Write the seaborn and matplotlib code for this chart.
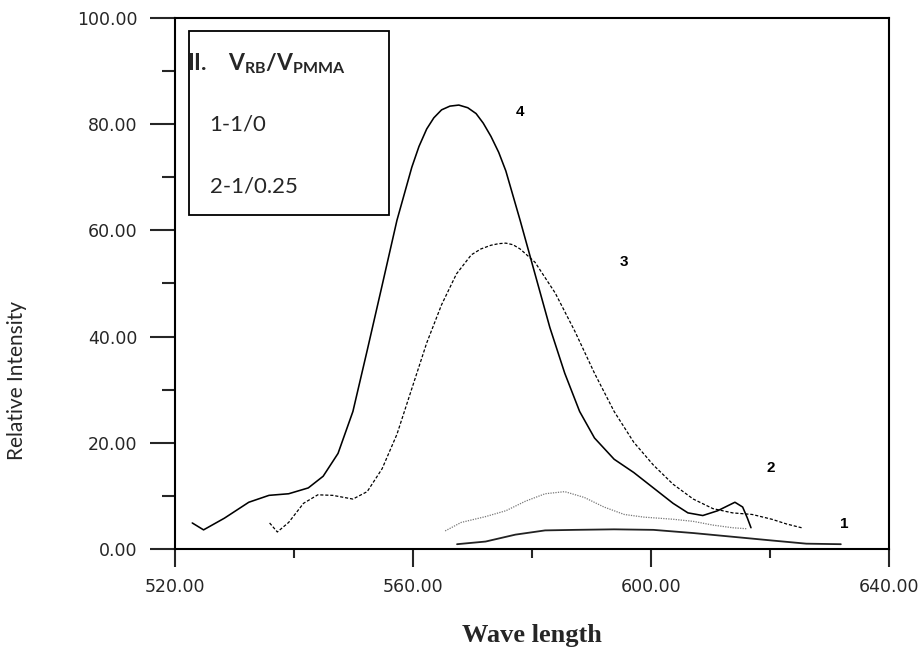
#!/usr/bin/env python3
"""
Relative intensity vs wave length for RB / PMMA mixtures (curves 1-4).
"""

import pandas as pd
import matplotlib
matplotlib.use("Agg")
import matplotlib.pyplot as plt
from matplotlib.ticker import MultipleLocator, FormatStrFormatter
from matplotlib.patches import Rectangle
import seaborn as sns

# ------------------------------------------------------------------
# Data (wave length in nm, relative intensity)
# ------------------------------------------------------------------
wl_4 = [522.9, 524.8, 528.3, 532.4, 535.8, 539.1, 542.4, 544.9, 547.4, 549.9,
        552.3, 554.8, 557.3, 559.8, 561.0, 562.3, 563.5, 564.8, 566.2, 567.7,
        569.2, 570.6, 571.8, 573.1, 574.4, 575.6, 578.0, 580.5, 583.0, 585.5,
        588.0, 590.5, 593.8, 597.1, 600.4, 603.7, 606.2, 608.7, 611.2, 614.1,
        615.4, 616.2, 616.8]
ri_4 = [4.9, 3.6, 5.8, 8.8, 10.1, 10.4, 11.5, 13.7, 18.0, 25.9,
        37.4, 49.6, 61.9, 71.9, 75.8, 79.1, 81.2, 82.7, 83.4, 83.6,
        83.1, 82.0, 80.2, 77.7, 74.7, 71.2, 61.9, 51.8, 41.7, 33.1,
        25.9, 20.9, 16.9, 14.4, 11.5, 8.6, 6.8, 6.3, 7.2, 8.8,
        7.9, 5.8, 4.0]

wl_3 = [535.9, 537.2, 539.1, 541.6, 544.0, 546.5, 549.9, 552.3, 554.8, 557.3,
        559.8, 562.3, 564.8, 567.3, 569.8, 571.4, 573.1, 574.4, 575.6, 576.8,
        578.0, 580.5, 583.9, 587.2, 590.5, 593.8, 597.1, 600.4, 603.7, 607.1,
        610.4, 613.7, 617.0, 620.3, 622.8, 625.3]
ri_3 = [4.9, 3.2, 5.0, 8.6, 10.2, 10.1, 9.4, 10.8, 15.1, 21.6,
        30.2, 38.8, 46.0, 51.8, 55.4, 56.5, 57.2, 57.5, 57.6, 57.3,
        56.5, 54.0, 48.2, 41.0, 33.1, 25.9, 20.1, 15.8, 12.2, 9.4,
        7.6, 6.8, 6.5, 5.6, 4.7, 4.0]

wl_2 = [565.4, 568.1, 572.2, 575.6, 578.9, 582.2, 585.5, 588.8, 592.1, 595.5,
        598.8, 603.7, 607.1, 610.4, 613.7, 616.2]
ri_2 = [3.4, 5.0, 6.1, 7.2, 9.0, 10.4, 10.8, 9.7, 7.9, 6.5,
        6.0, 5.6, 5.2, 4.5, 4.0, 3.8]

wl_1 = [567.4, 572.2, 577.2, 582.2, 587.2, 593.8, 600.4, 607.1, 613.7, 620.3,
        626.1, 631.9]
ri_1 = [0.9, 1.4, 2.7, 3.5, 3.6, 3.7, 3.6, 3.0, 2.3, 1.6, 1.0, 0.9]

curve_names = ["4", "3", "2", "1"]
legend_title = "II.    $\\mathbf{V_{RB}/V_{PMMA}}$"
legend_rows = ["1-1/0", "2-1/0.25"]

frames = []
for name, wl, ri in [("4", wl_4, ri_4), ("3", wl_3, ri_3),
                     ("2", wl_2, ri_2), ("1", wl_1, ri_1)]:
    frames.append(pd.DataFrame({"wave": wl, "intensity": ri, "curve": name}))
df = pd.concat(frames, ignore_index=True)

# ------------------------------------------------------------------
# Plot configuration
# ------------------------------------------------------------------
sns.set_theme(style="ticks")
plt.rcParams["font.family"] = ["DejaVu Sans"]
plt.rcParams["mathtext.fontset"] = "custom"
plt.rcParams["mathtext.rm"] = "Lato"
plt.rcParams["mathtext.bf"] = "Lato:bold"

fig = plt.figure(figsize=(9.23, 6.47), dpi=100)
ax = fig.add_axes([0.1896, 0.1515, 0.7736, 0.8207])

styles = {"4": dict(color="black", lw=1.15, ls="-"),
          "3": dict(color="black", lw=0.9, ls=(0, (2.5, 1.5))),
          "2": dict(color="#777777", lw=0.9, ls=(0, (1, 1))),
          "1": dict(color="#222222", lw=1.3, ls="-")}
for name in curve_names:
    sub = df[df["curve"] == name]
    st = styles[name]
    sns.lineplot(data=sub, x="wave", y="intensity", ax=ax, sort=False,
                 estimator=None, color=st["color"], linewidth=st["lw"],
                 linestyle=st["ls"], legend=False)

ax.set_xlim(520, 640)
ax.set_ylim(0, 100)
ax.xaxis.set_major_locator(MultipleLocator(40))
ax.xaxis.set_minor_locator(MultipleLocator(20))
ax.yaxis.set_major_locator(MultipleLocator(20))
ax.yaxis.set_minor_locator(MultipleLocator(10))
ax.xaxis.set_major_formatter(FormatStrFormatter("%.2f"))
ax.yaxis.set_major_formatter(FormatStrFormatter("%.2f"))
ax.tick_params(axis="x", which="major", length=13, width=1.5, pad=8,
               labelsize=12.5, direction="out")
ax.tick_params(axis="x", which="minor", length=6.5, width=1.5, direction="out")
ax.tick_params(axis="y", which="major", length=18, width=1.5, pad=9,
               labelsize=12.5, direction="out")
ax.tick_params(axis="y", which="minor", length=9.5, width=1.5, direction="out")
for sp in ax.spines.values():
    sp.set_linewidth(1.5)
    sp.set_color("black")
ax.set_xlabel("")
ax.set_ylabel("")

# curve numbers
label_pos = {"4": (578.0, 83.6), "3": (595.5, 55.3),
             "2": (620.2, 16.5), "1": (632.4, 6.0)}
for name in curve_names:
    x, y = label_pos[name]
    ax.text(x, y, name, ha="center", va="top", fontsize=11,
            fontweight="bold", color="black", family="Liberation Sans")

# legend box
ax.add_patch(Rectangle((522.3, 62.9), 33.7, 34.7, fill=False,
                       edgecolor="black", linewidth=1.3))
ax.text(522.0, 91.4, legend_title, ha="left", va="center", fontsize=16.5,
        fontweight="bold", family="Lato")
ax.text(525.8, 79.9, legend_rows[0], ha="left", va="center", fontsize=16,
        family="Lato")
ax.text(525.8, 68.3, legend_rows[1], ha="left", va="center", fontsize=16,
        family="Lato")

# axis titles
fig.text(17 / 923, 1 - 381 / 647, "Relative Intensity", rotation=90,
         ha="center", va="center", fontsize=15, family="Lato")
fig.text(532 / 923, 1 - 624 / 647, "Wave length", ha="center", va="top",
         fontsize=19, fontweight="bold", family="Liberation Serif")

# ------------------------------------------------------------------
# Save figure
# ------------------------------------------------------------------
plt.savefig("out.png", dpi=100)
plt.close()
